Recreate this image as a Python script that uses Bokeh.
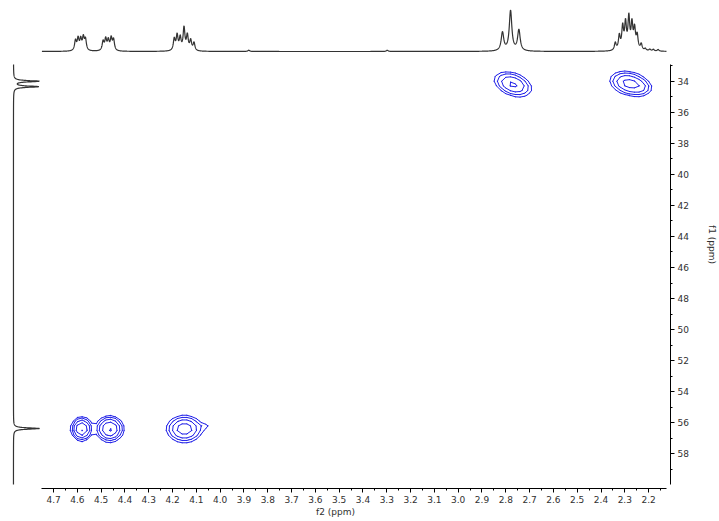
import numpy as np
from bokeh.plotting import figure
from bokeh.models import Range1d, LinearAxis, SingleIntervalTicker, PrintfTickFormatter
from bokeh.embed import file_html
from bokeh.resources import INLINE

# ---- 1H projection (f2): line positions (ppm), relative heights, widths (ppm)
h_pos = [4.608, 4.597, 4.586, 4.575, 4.566,
         4.492, 4.481, 4.470, 4.458, 4.448,
         4.193, 4.181, 4.168, 4.152, 4.138, 4.124, 4.110,
         3.880, 3.298,
         2.814, 2.780, 2.745,
         2.340, 2.323, 2.309, 2.297, 2.283, 2.270, 2.259, 2.248, 2.231, 2.214,
         2.195, 2.180, 2.160]
h_amp = [24, 28, 26, 30, 26,
         22, 27, 24, 29, 26,
         28, 36, 30, 54, 36, 24, 19,
         3, 3,
         44, 96, 50,
         18, 34, 54, 62, 76, 60, 48, 34, 15, 5,
         4, 4, 4]
h_fwhm = [0.009] * 19 + [0.013] * 3 + [0.009] * 13

# ---- 13C projection (f1)
c_pos = [34.00, 34.35, 56.37]
c_amp = [98, 96, 100]
c_fwhm = [0.10, 0.10, 0.10]

# ---- HSQC cross peaks: f2 (ppm), f1 (ppm), widths, tilt, intensity
xp_f2 = [4.582, 4.464, 4.150, 4.060, 2.770, 2.280, 2.225]
xp_f1 = [56.40, 56.40, 56.40, 56.25, 34.20, 34.15, 34.45]
xp_sx = [0.023, 0.030, 0.041, 0.018, 0.045, 0.046, 0.025]
xp_sy = [0.40, 0.43, 0.47, 0.16, 0.46, 0.44, 0.30]
xp_rho = [0.0, 0.0, 0.0, 0.0, -0.35, -0.25, 0.0]
xp_amp = [6.8, 7.0, 5.5, 0.9, 4.5, 5.0, 1.0]
contour_levels = [1.0, 1.6, 2.56, 4.1, 6.55]

# axis extents (ppm)
f2_lo, f2_hi = 2.125, 4.749
f1_lo, f1_hi = 32.92, 59.98


def lorentz_sum(grid, pos, amp, fwhm):
    out = np.zeros_like(grid)
    for x0, a, w in zip(pos, amp, fwhm):
        out += a / (1.0 + ((grid - x0) / (w / 2.0)) ** 2)
    return out


def iso_segments(gx, gy, Z, lev):
    xs, ys = [], []
    ny, nx = Z.shape
    for j in range(ny - 1):
        for i in range(nx - 1):
            zc = (Z[j, i], Z[j, i + 1], Z[j + 1, i + 1], Z[j + 1, i])
            if max(zc) < lev or min(zc) >= lev:
                continue
            cx = (gx[i], gx[i + 1], gx[i + 1], gx[i])
            cy = (gy[j], gy[j], gy[j + 1], gy[j + 1])
            pts = []
            for k in range(4):
                k2 = (k + 1) % 4
                z0, z1 = zc[k], zc[k2]
                if (z0 >= lev) != (z1 >= lev):
                    t = (lev - z0) / (z1 - z0)
                    pts.append((cx[k] + t * (cx[k2] - cx[k]), cy[k] + t * (cy[k2] - cy[k])))
            for a in range(0, len(pts) - 1, 2):
                xs.append([pts[a][0], pts[a + 1][0]])
                ys.append([pts[a][1], pts[a + 1][1]])
    return xs, ys


# frame spans 672 x 488 px; projections share it through extra ranges
p = figure(width=719, height=521, output_backend="svg", toolbar_location=None,
           x_range=Range1d(4.923, 2.108), y_range=Range1d(60.235, 28.80),
           x_axis_location=None, y_axis_location=None,
           min_border_left=0, min_border_top=0, min_border_right=47, min_border_bottom=33)
p.outline_line_color = None
p.grid.visible = False
p.background_fill_color = "white"
p.border_fill_color = "white"

p.extra_y_ranges = {"proj_h": Range1d(start=-1048.0, end=122.3)}
p.extra_x_ranges = {"proj_c": Range1d(start=-50.0, end=2534.6)}

# 1H projection along the top
hx = np.linspace(f2_hi, f2_lo, 4000)
hy = lorentz_sum(hx, h_pos, h_amp, h_fwhm)
p.line(hx, hy, y_range_name="proj_h", line_color="#333333", line_width=1.2)

# 13C projection along the left
cy = np.linspace(f1_lo, f1_hi, 4000)
cx = lorentz_sum(cy, c_pos, c_amp, c_fwhm)
p.line(cx, cy, x_range_name="proj_c", line_color="#333333", line_width=1.2)

# 2D map and contours
gx = np.arange(2.10, 4.76, 0.02)
gy = np.arange(32.8, 60.2, 0.3)
GX, GY = np.meshgrid(gx, gy)
Z = np.zeros_like(GX)
for x0, y0, sx, sy, r, a in zip(xp_f2, xp_f1, xp_sx, xp_sy, xp_rho, xp_amp):
    u = (GX - x0) / sx
    v = (GY - y0) / sy
    Z += a * np.exp(-0.5 * (u * u + v * v - 2 * r * u * v) / (1 - r * r))

for lev in contour_levels:
    xs, ys = iso_segments(gx, gy, Z, lev)
    if xs:
        p.multi_line(xs, ys, line_color="#2020e8", line_width=1.0, line_cap="round", line_join="round")

# axes
tick_font = "DejaVu Sans"
xaxis = LinearAxis(ticker=SingleIntervalTicker(interval=0.1, num_minor_ticks=2),
                   formatter=PrintfTickFormatter(format="%.1f"), bounds=(f2_lo, f2_hi),
                   axis_label="f2 (ppm)", axis_label_standoff=1)
yaxis = LinearAxis(ticker=SingleIntervalTicker(interval=2, num_minor_ticks=2),
                   formatter=PrintfTickFormatter(format="%d"), bounds=(f1_lo, f1_hi),
                   axis_label="f1 (ppm)", axis_label_standoff=15)
for ax in (xaxis, yaxis):
    ax.major_tick_in = 0
    ax.major_tick_out = 4
    ax.minor_tick_in = 0
    ax.minor_tick_out = 2
    ax.major_label_standoff = 3
    ax.major_label_text_font = tick_font
    ax.major_label_text_font_size = "9px"
    ax.major_label_text_color = "#303030"
    ax.axis_label_text_font = tick_font
    ax.axis_label_text_font_size = "9px"
    ax.axis_label_text_font_style = "normal"
    ax.axis_label_text_color = "#303030"
    ax.axis_line_color = "black"
    ax.major_tick_line_color = "black"
    ax.minor_tick_line_color = "black"
p.add_layout(xaxis, "below")
p.add_layout(yaxis, "right")

open("out.html", "w").write(file_html(p, INLINE))
